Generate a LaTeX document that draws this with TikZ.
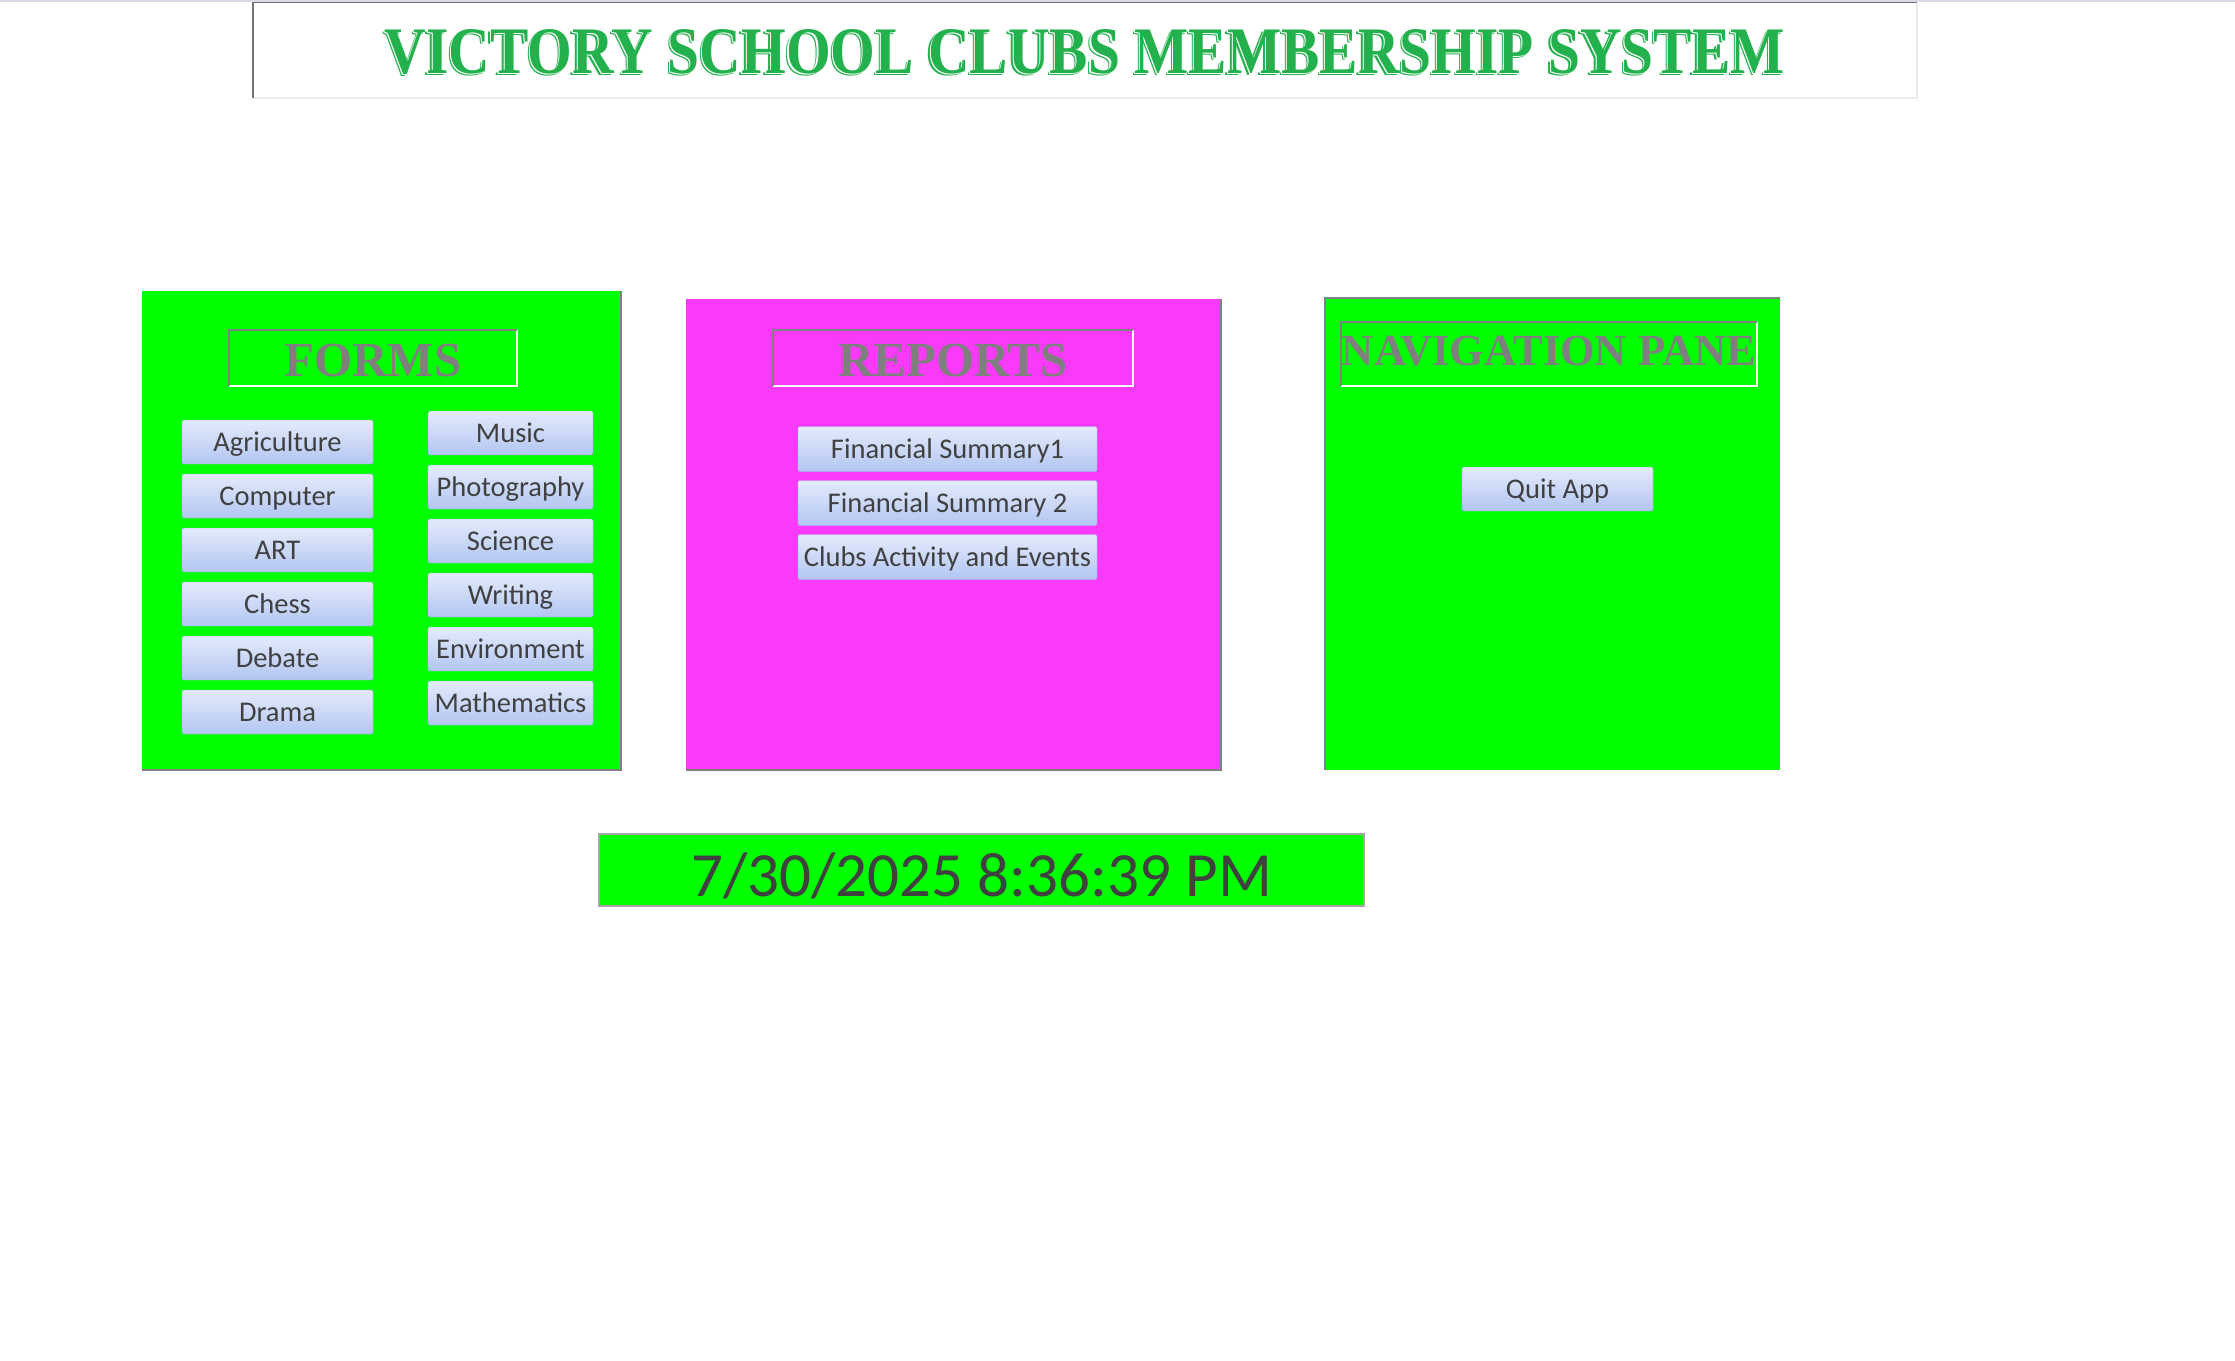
\documentclass[tikz,border=0pt]{standalone}
\usepackage{fontspec}
\setmainfont{Carlito}
\newfontfamily\headfont{Liberation Serif}
\usepackage{xcolor}
\usetikzlibrary{arrows.meta, positioning}
\definecolor{limegreen}{HTML}{00FF00}
\definecolor{panelpink}{RGB}{249,59,249}
\definecolor{titlegreen}{HTML}{22B14C}
\definecolor{framegray}{HTML}{808080}
\definecolor{headgray}{HTML}{7F7F7F}
\definecolor{btntop}{HTML}{E4EAFB}
\definecolor{btnbottom}{HTML}{B2C6F2}
\definecolor{btnline}{HTML}{9CB2E6}
\definecolor{btntext}{HTML}{404040}
\definecolor{topline}{HTML}{D5DAE5}

\begin{document}
\begin{tikzpicture}[x=1pt,y=-1pt,
    button/.style={draw=btnline, rounded corners=1.5pt,
        top color=btntop, bottom color=btnbottom, inner sep=0pt,
        minimum height=44pt, text=btntext,
        font=\fontsize{28.5}{30}\selectfont, text height=18pt, text depth=0pt},
    wide/.style={button, minimum width=191pt},
    narrow/.style={button, minimum width=165pt},
    report/.style={button, minimum width=299pt, minimum height=45pt},
    focus/.style={draw=btntext, densely dotted},
    headbox/.style={inner sep=0pt, text=headgray,
        font=\headfont\bfseries\fontsize{49}{50}\selectfont,
        text height=36pt, text depth=0pt},
    titletext/.style={inner sep=0pt, anchor=base,
        font=\headfont\bfseries},
    every node/.style={outer sep=0pt}]

    \useasboundingbox (0,0) rectangle (2235,1360);
    \fill[white] (0,0) rectangle (2235,1360);
    \fill[topline] (0,0) rectangle (2235,2);

    % title
    \draw[line width=1.2pt, black!8] (253,98) -- (1917,98) -- (1917,2.5);
    \draw[line width=1.5pt, black!55] (253,98) -- (253,2.5) -- (1917,2.5);
    \node[titletext, text=titlegreen] (titleshadow) at (1082.5,75.5)
        {\resizebox{1400pt}{44pt}{VICTORY SCHOOL CLUBS MEMBERSHIP SYSTEM}};
    \node[titletext, text=white] (titlegap) at (1083.8,74.2)
        {\resizebox{1400pt}{44pt}{VICTORY SCHOOL CLUBS MEMBERSHIP SYSTEM}};
    \node[titletext, text=titlegreen] (title) at (1085,73)
        {\resizebox{1400pt}{44pt}{VICTORY SCHOOL CLUBS MEMBERSHIP SYSTEM}};

    % panels
    \fill[limegreen] (142,291) rectangle (621,770);
    \draw[framegray, line width=1.5pt] (142,770) -- (621,770) -- (621,291);
    \fill[panelpink] (686,299) rectangle (1221,770);
    \draw[framegray, line width=1.5pt] (686,770) -- (1221,770) -- (1221,299);
    \fill[limegreen] (1325,298) rectangle (1780,770);
    \draw[framegray, line width=1.5pt] (1325,770) -- (1325,298) -- (1780,298);

    % headers
    \node[headbox, minimum width=288pt, minimum height=56pt] (formshead) at (373,358) {FORMS};
    \node[headbox, minimum width=360pt, minimum height=56pt] (reportshead) at (953,358) {REPORTS};
    \node[headbox, minimum width=416pt, minimum height=64pt,
        font=\headfont\bfseries\fontsize{44.5}{46}\selectfont,
        text height=23.5pt] (navhead) at (1549,354) {NAVIGATION PANE};
    \foreach \h in {formshead, reportshead, navhead} {
        \draw[white, line width=1.5pt] (\h.south west) -| (\h.north east);
        \draw[framegray, line width=1.5pt] (\h.south west) |- (\h.north east);
    }

    % forms
    \node[wide] (agri) at (277.5,442) {Agriculture};
    \node[wide, below=10pt of agri] (comp) {Computer};
    \node[wide, below=10pt of comp] (art) {ART};
    \node[wide, below=10pt of art] (chess) {Chess};
    \node[wide, below=10pt of chess] (debate) {Debate};
    \node[wide, below=10pt of debate] (drama) {Drama};

    \node[narrow, focus] (music) at (510.5,433) {Music};
    \node[narrow, below=10pt of music] (photo) {Photography};
    \node[narrow, below=10pt of photo] (science) {Science};
    \node[narrow, below=10pt of science] (writing) {Writing};
    \node[narrow, below=10pt of writing] (environ) {Environment};
    \node[narrow, below=10pt of environ] (maths) {Mathematics};

    % reports
    \node[report] (fin1) at (947.5,449) {Financial Summary1};
    \node[report, below=9pt of fin1] (fin2) {Financial Summary 2};
    \node[report, below=9pt of fin2] (events) {Clubs Activity and Events};

    % navigation
    \node[wide] (quit) at (1557.5,489) {Quit App};

    % clock
    \node[fill=limegreen, draw=black!35, line width=1.2pt, inner sep=0pt,
        minimum width=765pt, minimum height=72pt, text=btntext,
        font=\fontsize{63}{65}\selectfont, text height=52pt, text depth=0pt
        %, draw=red
    ] (clock) at (981.5,870) {7/30/2025 8:36:39 PM};

\end{tikzpicture}
\end{document}
